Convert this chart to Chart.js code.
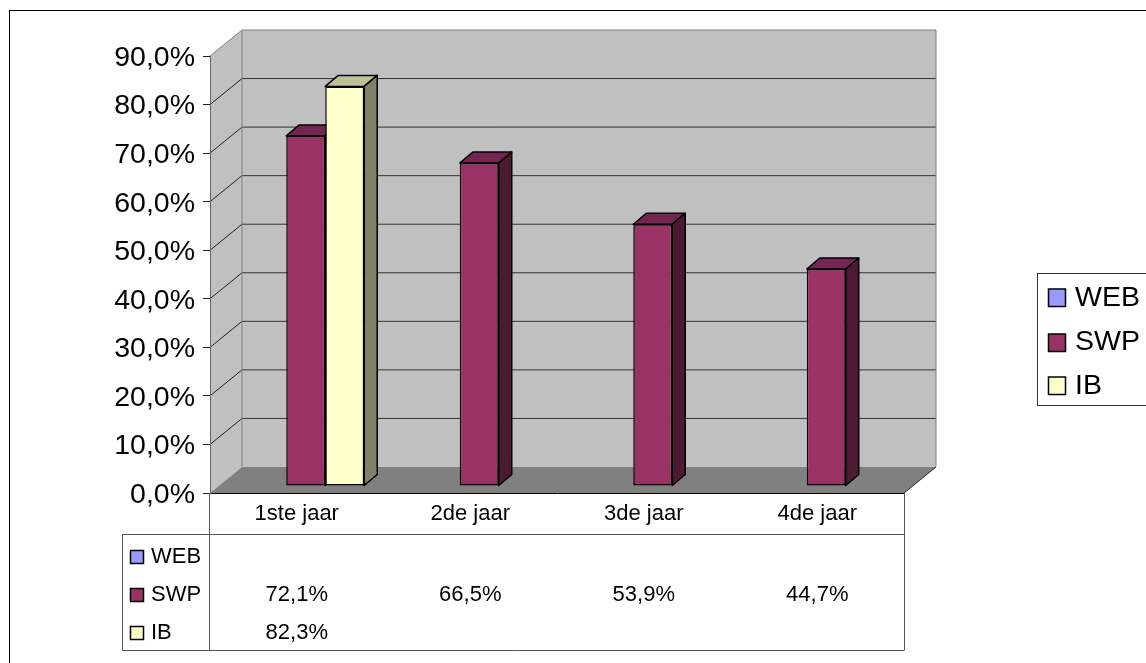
<!DOCTYPE html>
<html>
<head>
<meta charset="utf-8">
<script src="https://cdn.jsdelivr.net/npm/chart.js@4"></script>
<style>
  body { margin: 0; background: #fff; }
  canvas { display: block; }
</style>
</head>
<body>
<canvas id="myBarChart" width="1146" height="663"></canvas>
<script>
  const categories = ['1ste jaar', '2de jaar', '3de jaar', '4de jaar'];
  const seriesNames = ['WEB', 'SWP', 'IB'];
  const webValues = [null, null, null, null];
  const swpValues = [72.1, 66.5, 53.9, 44.7];
  const ibValues = [82.3, null, null, null];
  const seriesColors = ['#9999FF', '#993366', '#FFFFCC'];
  const topColors = ['#7373BF', '#732650', '#BFBF99'];
  const sideColors = ['#4D4D80', '#4D1A33', '#808066'];

  const FONT = '"Liberation Sans", Arial, sans-serif';
  const wallDepth = { x: 32, y: -26 };
  const barDepth = { x: 13, y: -11 };
  const barShift = { x: 9, y: -7 };

  function pct(v) {
    return v.toFixed(1).replace('.', ',') + '%';
  }

  function poly(ctx, pts, fill, stroke, width) {
    ctx.beginPath();
    pts.forEach((p, i) => i ? ctx.lineTo(p[0], p[1]) : ctx.moveTo(p[0], p[1]));
    ctx.closePath();
    if (fill) { ctx.fillStyle = fill; ctx.fill(); }
    if (stroke) { ctx.strokeStyle = stroke; ctx.lineWidth = width; ctx.stroke(); }
  }

  function line(ctx, x1, y1, x2, y2, color, width) {
    ctx.beginPath();
    ctx.moveTo(x1, y1);
    ctx.lineTo(x2, y2);
    ctx.strokeStyle = color;
    ctx.lineWidth = width;
    ctx.stroke();
  }

  const walls = {
    id: 'walls',
    // frame, side wall, back wall and floor behind the bars
    beforeDraw(chart) {
      const ctx = chart.ctx;
      const { left, right, top, bottom } = chart.chartArea;
      const dx = wallDepth.x, dy = wallDepth.y;
      ctx.save();
      ctx.strokeStyle = '#000';
      ctx.lineWidth = 1;
      ctx.strokeRect(9.5, 10.5, 1300, 800);

      poly(ctx, [[left + dx, top + dy], [right + dx, top + dy], [right + dx, bottom + dy], [left + dx, bottom + dy]], '#C0C0C0');
      poly(ctx, [[left, top], [left + dx, top + dy], [left + dx, bottom + dy], [left, bottom]], '#C0C0C0');

      chart.scales.y.ticks.forEach(t => {
        const y = chart.scales.y.getPixelForValue(t.value);
        if (t.value > 0 && t.value < 90) {
          line(ctx, left, y, left + dx, y + dy, '#222', 1);
          line(ctx, left + dx, y + dy, right + dx, y + dy, '#333', 1);
        }
      });

      line(ctx, left, top, left + dx, top + dy, '#808080', 1);
      line(ctx, left + dx, top + dy, right + dx, top + dy, '#808080', 1);
      line(ctx, right + dx, top + dy, right + dx, bottom + dy, '#808080', 1);
      line(ctx, left + dx, top + dy, left + dx, bottom + dy, '#808080', 1);
      poly(ctx, [[left, bottom], [right, bottom], [right + dx, bottom + dy], [left + dx, bottom + dy]], '#808080');
      line(ctx, right, bottom, right + dx, bottom + dy, '#222', 1);
      ctx.restore();
    },
    // bars stand a little behind the front edge of the floor, later series in front
    beforeDatasetsDraw(chart) {
      const ctx = chart.ctx;
      ctx.save();
      ctx.translate(barShift.x, barShift.y);
      ctx.lineJoin = 'round';
      seriesNames.forEach((name, i) => {
        const meta = chart.getDatasetMeta(i);
        meta.data.forEach((el, j) => {
          if (chart.data.datasets[i].data[j] === null) return;
          const l = el.x - el.width / 2, r = el.x + el.width / 2;
          const dx = barDepth.x, dy = barDepth.y;
          poly(ctx, [[l, el.y], [l + dx, el.y + dy], [r + dx, el.y + dy], [r, el.y]], topColors[i], '#000', 1.5);
          poly(ctx, [[r, el.y], [r + dx, el.y + dy], [r + dx, el.base + dy], [r, el.base]], sideColors[i], '#000', 1.5);
        });
        meta.controller.draw();
      });
      ctx.restore();
      return false;
    },
    afterDraw(chart) {
      drawTable(chart);
      drawLegend(chart);
    }
  };

  function drawTable(chart) {
    const ctx = chart.ctx;
    const { left, right, bottom } = chart.chartArea;
    const tableLeft = 122.5, headY = 534.5, endY = 650.5;
    const rowY = [556, 594, 632];
    const rows = [webValues, swpValues, ibValues];
    ctx.save();
    line(ctx, tableLeft, headY, right, headY, '#555', 1);
    line(ctx, tableLeft, endY, right, endY, '#555', 1);
    line(ctx, tableLeft, headY, tableLeft, endY, '#555', 1);
    line(ctx, left - 0.5, bottom, left - 0.5, endY, '#555', 1);
    line(ctx, right + 0.5, bottom, right + 0.5, endY, '#555', 1);
    ctx.font = '22px ' + FONT;
    ctx.textBaseline = 'middle';
    rows.forEach((vals, r) => {
      poly(ctx, [[130.5, rowY[r] - 5.5], [143.5, rowY[r] - 5.5], [143.5, rowY[r] + 7.5], [130.5, rowY[r] + 7.5]], seriesColors[r], '#000', 1.5);
      ctx.fillStyle = '#000';
      ctx.textAlign = 'left';
      ctx.fillText(seriesNames[r], 151, rowY[r] + 1);
      ctx.textAlign = 'center';
      vals.forEach((v, c) => {
        if (v !== null) ctx.fillText(pct(v), chart.scales.x.getPixelForValue(c), rowY[r] + 1);
      });
    });
    ctx.restore();
  }

  function drawLegend(chart) {
    const ctx = chart.ctx;
    const rowY = [298, 343, 386];
    const textY = [298, 342, 386];
    ctx.save();
    ctx.strokeStyle = '#333';
    ctx.lineWidth = 1;
    ctx.strokeRect(1037.5, 273.5, 200, 132);
    ctx.font = '28.5px ' + FONT;
    ctx.textAlign = 'left';
    ctx.textBaseline = 'middle';
    seriesNames.forEach((name, r) => {
      poly(ctx, [[1048.5, rowY[r] - 9], [1065.5, rowY[r] - 9], [1065.5, rowY[r] + 8.5], [1048.5, rowY[r] + 8.5]], seriesColors[r], '#000', 1.5);
      ctx.fillStyle = '#000';
      ctx.fillText(name, 1075, textY[r]);
    });
    ctx.restore();
  }

  function barSet(i, values) {
    return {
      label: seriesNames[i],
      data: values,
      backgroundColor: seriesColors[i],
      borderColor: '#000',
      borderWidth: 1.5,
      borderSkipped: false,
      categoryPercentage: 0.674,
      barPercentage: 1
    };
  }

  let myBarChart = new Chart(document.getElementById('myBarChart').getContext('2d'), {
    type: 'bar',
    data: {
      labels: categories,
      datasets: [barSet(0, webValues), barSet(1, swpValues), barSet(2, ibValues)]
    },
    options: {
      responsive: false,
      animation: false,
      devicePixelRatio: 1,
      layout: { padding: { left: 0, top: 56, right: 242, bottom: 130 } },
      plugins: { legend: { display: false }, tooltip: { enabled: false } },
      scales: {
        x: {
          afterFit: s => { s.height = 40; },
          grid: { display: false },
          border: { color: '#000', width: 1 },
          ticks: {
            color: '#000',
            padding: 0,
            maxRotation: 0,
            autoSkip: false,
            font: { family: FONT, size: 22 }
          }
        },
        y: {
          min: 0,
          max: 90,
          afterFit: s => { s.width = 210; },
          grid: { drawOnChartArea: false, tickLength: 7, color: '#222' },
          border: { color: '#666', width: 1 },
          ticks: {
            stepSize: 10,
            color: '#000',
            padding: 8,
            labelOffset: 2,
            font: { family: FONT, size: 28.5 },
            callback: v => pct(v)
          }
        }
      }
    },
    plugins: [walls]
  });
</script>
</body>
</html>
